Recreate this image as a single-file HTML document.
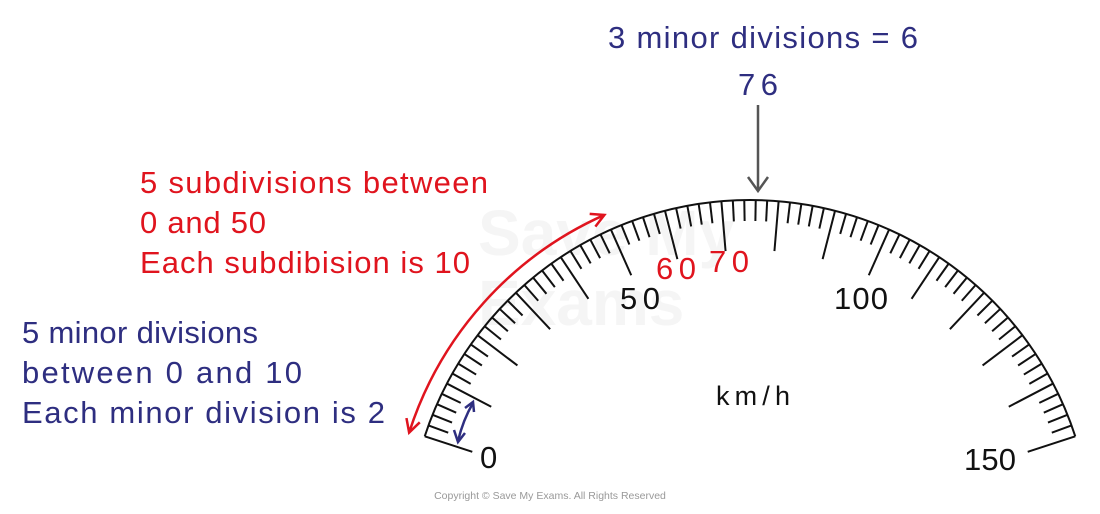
<!DOCTYPE html>
<html><head><meta charset="utf-8"><style>
html,body{margin:0;padding:0;background:#fff;}
svg{display:block;}
text{font-family:"Liberation Sans",sans-serif;}
</style></head><body>
<svg id="s" width="1100" height="514" viewBox="0 0 1100 514" xmlns="http://www.w3.org/2000/svg">
<text x="478" y="255" font-size="64" font-weight="bold" fill="#f5f5f5">Save My</text>
<text x="478" y="325" font-size="64" font-weight="bold" fill="#f5f5f5">Exams</text>
<g id="g" stroke="#111" stroke-width="2" fill="none" stroke-linecap="butt"></g>
<g font-size="31" fill="#e0141e">
<text x="140" y="193" textLength="348" lengthAdjust="spacing">5 subdivisions between</text>
<text x="140" y="233" textLength="126" lengthAdjust="spacing">0 and 50</text>
<text x="140" y="273" textLength="330" lengthAdjust="spacing">Each subdibision is 10</text>
<text x="656" y="279" textLength="40" lengthAdjust="spacing">60</text>
<text x="709" y="272" textLength="40" lengthAdjust="spacing">70</text>
</g>
<g font-size="31" fill="#2e2e80">
<text x="22" y="343" textLength="236" lengthAdjust="spacing">5 minor divisions</text>
<text x="22" y="383" textLength="280" lengthAdjust="spacing">between 0 and 10</text>
<text x="22" y="423" textLength="363" lengthAdjust="spacing">Each minor division is 2</text>
<text x="608" y="48" textLength="310" lengthAdjust="spacing">3 minor divisions = 6</text>
<text x="738" y="95" textLength="40" lengthAdjust="spacing">76</text>
</g>
<g font-size="31" fill="#111">
<text x="480" y="468" textLength="20" lengthAdjust="spacing">0</text>
<text x="620" y="309" textLength="40" lengthAdjust="spacing">50</text>
<text x="834" y="309" textLength="54" lengthAdjust="spacing">100</text>
<text x="964" y="470" textLength="52" lengthAdjust="spacing">150</text>
<text x="716" y="405" font-size="27" textLength="74" lengthAdjust="spacing">km/h</text>
</g>
<g stroke="#555" stroke-width="2.5" fill="none">
<line x1="758" y1="105" x2="758" y2="190"/>
<path d="M748,177 L758,191 L768,177"/>
</g>
<g stroke="#2e2e80" stroke-width="2.5" fill="none">
<path d="M458,441 Q463,420 473,403"/>
<path d="M454,430 L458,442 L465,433"/>
<path d="M465,408 L473,402 L474,412"/>
</g>
<text x="550" y="499" font-size="10.5" fill="#999" text-anchor="middle">Copyright © Save My Exams. All Rights Reserved</text>
</svg>
<script>
var g=document.getElementById('g'),cx=750,cy=542,R=342,NS='http://www.w3.org/2000/svg';
function ang(v){return (162-v*0.96)*Math.PI/180;}
function P(r,a){return [cx+r*Math.cos(a),cy-r*Math.sin(a)];}
var a0=ang(0),a1=ang(150),p0=P(R,a0),p1=P(R,a1);
var arc=document.createElementNS(NS,'path');
arc.setAttribute('d','M'+p0+' A'+R+','+R+' 0 0 1 '+p1);g.appendChild(arc);
for(var v=0;v<=150;v+=2){var a=ang(v),L=(v%10==0)?50:21;var q=P(R,a),w=P(R-L,a);
var l=document.createElementNS(NS,'line');l.setAttribute('x1',q[0]);l.setAttribute('y1',q[1]);l.setAttribute('x2',w[0]);l.setAttribute('y2',w[1]);g.appendChild(l);}
var rr=358,b0=162.2*Math.PI/180,b1=114*Math.PI/180,r0=P(rr,b0),r1=P(rr,b1);
var ra=document.createElementNS(NS,'path');ra.setAttribute('d','M'+r0+' A'+rr+','+rr+' 0 0 1 '+r1);
ra.setAttribute('stroke','#e0141e');ra.setAttribute('stroke-width','2.5');ra.setAttribute('fill','none');
document.getElementById('s').appendChild(ra);
function head(p,a,dir){var t=[Math.sin(a)*dir,Math.cos(a)*dir];
var n=[Math.cos(a),-Math.sin(a)];var s=13;
var A=[p[0]-t[0]*s+n[0]*7,p[1]-t[1]*s+n[1]*7],B=[p[0]-t[0]*s-n[0]*7,p[1]-t[1]*s-n[1]*7];
var h=document.createElementNS(NS,'path');h.setAttribute('d','M'+A+' L'+p+' L'+B);
h.setAttribute('stroke','#e0141e');h.setAttribute('stroke-width','2.5');h.setAttribute('fill','none');
document.getElementById('s').appendChild(h);}
head(r1,b1,1);head(r0,b0,-1);
</script>
</body></html>
